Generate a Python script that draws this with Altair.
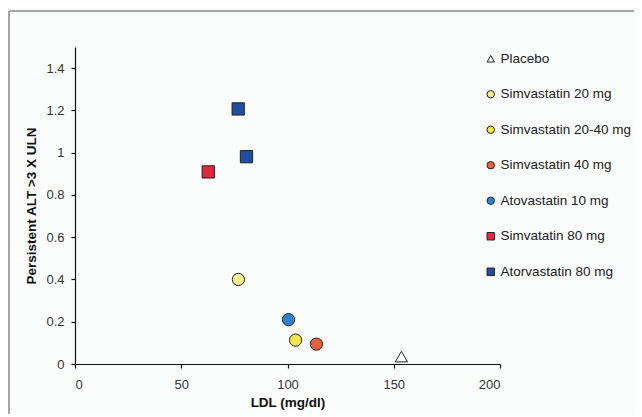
import altair as alt
import pandas as pd

groups = ["Placebo", "Simvastatin 20 mg", "Simvastatin 20-40 mg", "Simvastatin 40 mg",
          "Atovastatin 10 mg", "Simvatatin 80 mg", "Atorvastatin 80 mg"]
shapes = ["triangle-up", "circle", "circle", "circle", "circle", "square", "square"]
fills = ["#ffffff", "#f2ee8c", "#f6e448", "#e8603a", "#2d84d2", "#e2283e", "#1f4f9e"]
strokes = ["#222222"] * 7

pt_group = ["Placebo", "Simvastatin 20 mg", "Simvastatin 20-40 mg", "Simvastatin 40 mg",
            "Atovastatin 10 mg", "Simvatatin 80 mg", "Atorvastatin 80 mg", "Atorvastatin 80 mg"]
ldl = [153.6, 76.9, 103.8, 113.6, 100.5, 62.7, 76.8, 80.7]
alt_vals = [0.035, 0.40, 0.113, 0.094, 0.21, 0.909, 1.207, 0.981]

x_ticks = [0, 50, 100, 150, 200]
y_ticks = [0, 0.2, 0.4, 0.6, 0.8, 1.0, 1.2, 1.4]

df = pd.DataFrame({"group": pt_group, "ldl": ldl, "alt": alt_vals})

legend = alt.Legend(title=None, orient="none", legendX=409, legendY=5,
                    rowPadding=20.5, labelFontSize=13.5, symbolSize=55,
                    symbolStrokeWidth=1,
                    labelColor="#222222", labelFont="Liberation Sans",
                    labelOffset=3)

points = alt.Chart(df).mark_point(filled=True, strokeWidth=1, size=150, opacity=1).encode(
    x=alt.X("ldl:Q", scale=alt.Scale(domain=[0, 200], nice=False),
            axis=alt.Axis(values=x_ticks, title="LDL (mg/dl)", grid=False, labelPadding=10, titlePadding=4)),
    y=alt.Y("alt:Q", scale=alt.Scale(domain=[0, 1.5], nice=False),
            axis=alt.Axis(values=y_ticks, format="~g", title="Persistent ALT >3 X ULN", grid=False,
                          labelPadding=7, titlePadding=7)),
    fill=alt.Fill("group:N", scale=alt.Scale(domain=groups, range=fills), legend=legend),
    shape=alt.Shape("group:N", scale=alt.Scale(domain=groups, range=shapes), legend=legend),
    stroke=alt.Stroke("group:N", scale=alt.Scale(domain=groups, range=strokes), legend=legend),
)

frame = alt.Chart(pd.DataFrame({"a": [0]})).mark_rule(color="#8a8a8a", strokeWidth=1.5).encode(
    x=alt.value(-66), x2=alt.value(600), y=alt.value(-36)
)
frame2 = alt.Chart(pd.DataFrame({"a": [0]})).mark_rule(color="#8a8a8a", strokeWidth=1.5).encode(
    x=alt.value(-66), y=alt.value(-36), y2=alt.value(380)
)

chart = alt.layer(frame, frame2, points).properties(
    width=425, height=317,
    autosize=alt.AutoSizeParams(type="none"),
    padding={"left": 67, "top": 39, "right": 134, "bottom": 50},
    background="#fbfcfc",
).configure_view(stroke=None).configure_axis(
    domainColor="#111111", tickColor="#111111", domainWidth=1.2, tickWidth=1.2, tickSize=4,
    labelFont="Liberation Sans", labelFontSize=13, labelColor="#333333",
    titleFont="Liberation Sans", titleFontSize=13.5, titleColor="#111111", titleFontWeight="bold",
)

chart.save("out.html", embed_options={"renderer": "svg", "actions": False})
